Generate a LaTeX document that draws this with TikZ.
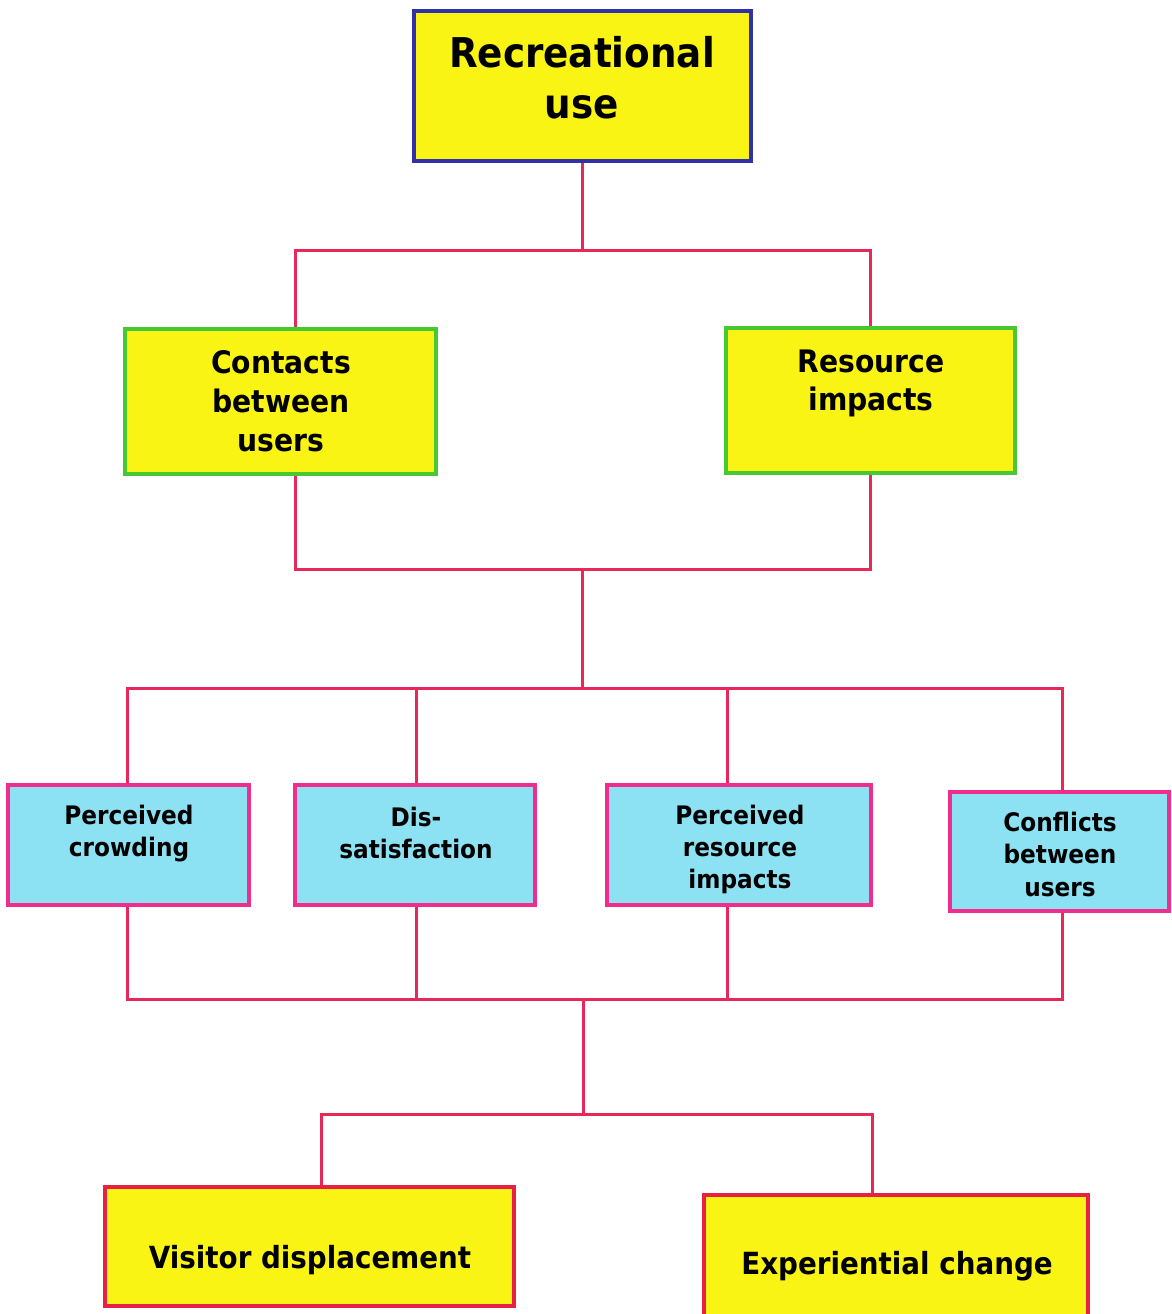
\documentclass[tikz,border=0pt]{standalone}
\usepackage{fontspec}
\setmainfont{DejaVu Sans}[FakeStretch=0.91]
\definecolor{boxyellow}{RGB}{250,244,20}
\definecolor{boxcyan}{RGB}{140,226,242}
\definecolor{rimblue}{RGB}{48,48,170}
\definecolor{rimgreen}{RGB}{70,200,50}
\definecolor{rimpink}{RGB}{240,45,140}
\definecolor{rimred}{RGB}{232,32,70}
\definecolor{wire}{RGB}{232,40,88}
\begin{document}
\begin{tikzpicture}[x=1pt,y=-1pt,
  box/.style={draw, line width=4.5pt, inner sep=0pt},
  topbox/.style={box, draw=rimblue, fill=boxyellow},
  midbox/.style={box, draw=rimgreen, fill=boxyellow},
  cyanbox/.style={box, draw=rimpink, fill=boxcyan},
  endbox/.style={box, draw=rimred, fill=boxyellow},
  label/.style={align=center, inner sep=0pt, font=\bfseries},
  wire/.style={draw=wire, line width=3pt}]
\useasboundingbox (0,0) rectangle (1171,1314);

% boxes
\node[topbox, minimum width=337pt, minimum height=150pt] (rec) at (582.5,86) {};
\node[midbox, minimum width=311pt, minimum height=145pt] (con) at (280.5,401.5) {};
\node[midbox, minimum width=289pt, minimum height=145pt] (res) at (870.5,400.5) {};
\node[cyanbox, minimum width=241pt, minimum height=120pt] (crowd) at (128.5,845) {};
\node[cyanbox, minimum width=240pt, minimum height=120pt] (dis) at (415,845) {};
\node[cyanbox, minimum width=264pt, minimum height=120pt] (pri) at (739,845) {};
\node[cyanbox, minimum width=219pt, minimum height=119pt] (conf) at (1059.5,851.5) {};
\node[endbox, minimum width=409pt, minimum height=119pt] (vis) at (309.5,1246.5) {};
\node[endbox, minimum width=384pt, minimum height=122pt] (exp) at (896,1256) {};

% texts
\node[label, font=\fontsize{41}{51}\selectfont\bfseries] (trec) at (582,78) {Recreational\\use};
\node[label, font=\fontsize{31}{39}\selectfont\bfseries] (tcon) at (281,401.5) {Contacts\\between\\users};
\node[label, font=\fontsize{31}{38}\selectfont\bfseries] (tres) at (871,383) {Resource\\impacts};
\node[label, font=\fontsize{25.5}{32}\selectfont\bfseries] (tcrowd) at (129,834) {Perceived\\crowding};
\node[label, font=\fontsize{25.5}{32}\selectfont\bfseries] (tdis) at (416,833) {Dis-\\satisfaction};
\node[label, font=\fontsize{25.5}{32}\selectfont\bfseries] (tpri) at (740,849) {Perceived\\resource\\impacts};
\node[label, font=\fontsize{25.5}{32.5}\selectfont\bfseries] (tconf) at (1060,854) {Conflicts\\between\\users};
\node[label, font=\fontsize{30.5}{38}\selectfont\bfseries] (tvis) at (310,1260) {Visitor displacement};
\node[label, font=\fontsize{30.5}{38}\selectfont\bfseries] (texp) at (897,1266) {Experiential change};

% junction points
\coordinate (j1) at (582,250);
\coordinate (j2) at (582,569);
\coordinate (j3) at (582,688);
\coordinate (j4) at (583,999);
\coordinate (j5) at (583,1114);
\coordinate (up1) at (416,688);
\coordinate (up2) at (727,688);
\coordinate (dn1) at (416,999);
\coordinate (dn2) at (727,999);

% connectors
\draw[wire] (rec.south -| j1) -- (j1);
\draw[wire] (con.north -| 295,0) |- (j1) -| (res.north);
\draw[wire] (con.south -| 295,0) |- (j2) -| (res.south);
\draw[wire] (j2) -- (j3);
\draw[wire] (crowd.north -| 127,0) |- (j3) -| (conf.north -| 1062,0);
\draw[wire] (dis.north -| up1) -- (up1);
\draw[wire] (pri.north -| up2) -- (up2);
\draw[wire] (crowd.south -| 127,0) |- (j4) -| (conf.south -| 1062,0);
\draw[wire] (dis.south -| dn1) -- (dn1);
\draw[wire] (pri.south -| dn2) -- (dn2);
\draw[wire] (j4) -- (j5);
\draw[wire] (vis.north -| 321,0) |- (j5) -| (exp.north -| 872,0);
\end{tikzpicture}
\end{document}
